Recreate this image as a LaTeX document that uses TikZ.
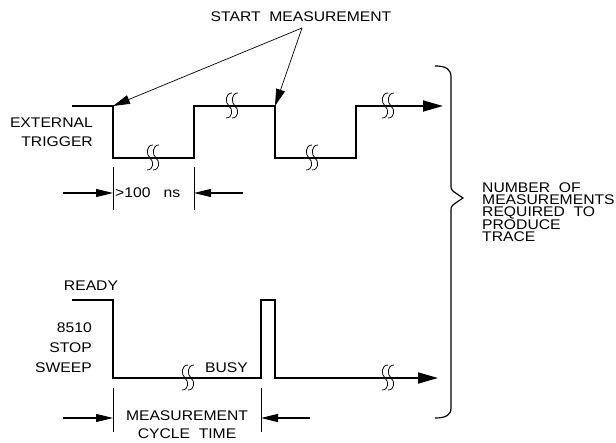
\documentclass[tikz,border=0pt]{standalone}
\usepackage{fontspec}
\newfontfamily\plotfont[FakeStretch=1.12]{Liberation Sans}
\usetikzlibrary{arrows.meta}
\begin{document}
\begin{tikzpicture}[x=1pt,y=-1pt,
  wave/.style={line width=1.8pt, line join=miter},
  wavetip/.style={-{Triangle[length=20pt,width=11pt]}},
  lbl/.style={font=\plotfont\fontsize{14}{19}\selectfont, inner sep=0pt},
  lead/.style={line width=0.7pt, -{Triangle[length=17pt,width=9pt]}},
  dimarrow/.style={line width=1.2pt, -{Triangle[length=17pt,width=8pt]}},
  dimtick/.style={line width=0.9pt},
  bracestyle/.style={line width=1.2pt},
  brk/.pic={
    \foreach \dx in {-3,3} {
      \draw[line width=0.8pt] (\dx+3,-13) .. controls (\dx-4,-13) and (\dx-4,-3) .. (\dx,0)
        .. controls (\dx+4,3) and (\dx+4,12) .. (\dx-3,12);
    }
  }
]
\useasboundingbox (0,0) rectangle (616,443);

% ---------- labels ----------
\node[lbl] (start) at (301,17) {START\ \ MEASUREMENT};
\coordinate (sm) at (302,28);
\node[lbl, align=right, anchor=north east] (ext) at (93,118) {EXTERNAL\\TRIGGER};
\node[lbl, anchor=west] (ns) at (115,193) {>100\ \ \ ns};
\node[lbl] (ready) at (91,286) {READY};
\node[lbl, align=right, anchor=north east, font=\plotfont\fontsize{14}{20}\selectfont] (stop) at (92,323) {8510\\STOP\\SWEEP};
\node[lbl] (busy) at (226.5,368) {BUSY};
\node[lbl, align=center, anchor=north, font=\plotfont\fontsize{14}{18}\selectfont] (mct) at (187,411) {MEASUREMENT\\CYCLE\ \ TIME};
\node[lbl, align=left, anchor=north west, font=\plotfont\fontsize{14}{11.75}\selectfont] (num) at (482,183)
  {NUMBER\ \ OF\\MEASUREMENTS\\REQUIRED\ \ TO\\PRODUCE\\TRACE};

% ---------- external trigger waveform ----------
\coordinate (t0) at (72,106);
\coordinate (t1) at (113,106);
\coordinate (t2) at (113,158);
\coordinate (t3) at (194,158);
\coordinate (t4) at (194,106);
\coordinate (t5) at (275,106);
\coordinate (t6) at (275,158);
\coordinate (t7) at (356,158);
\coordinate (t8) at (356,106);
\coordinate (t9) at (443,106);
\draw[wave, wavetip] (t0) -- (t1) -- (t2) -- (t3) -- (t4) -- (t5) -- (t6) -- (t7) -- (t8) -- (t9);
\pic at (153,158) {brk};
\pic at (232,106) {brk};
\pic at (312,158) {brk};
\pic at (388,106) {brk};

% start measurement leaders
\draw[lead] (sm) -- (t1);
\draw[lead] (sm) -- (t5);

% >100 ns dimension
\coordinate (d1a) at (113,167); \coordinate (d1b) at (113,210);
\coordinate (d2a) at (194,167); \coordinate (d2b) at (194,210);
\draw[dimtick] (d1a) -- (d1b);
\draw[dimtick] (d2a) -- (d2b);
\coordinate (d1l) at (63,193);  \coordinate (d1t) at (113,193);
\coordinate (d2r) at (243,193); \coordinate (d2t) at (194,193);
\draw[dimarrow] (d1l) -- (d1t);
\draw[dimarrow] (d2r) -- (d2t);

% ---------- stop sweep waveform ----------
\coordinate (b0) at (72,300);
\coordinate (b1) at (113,300);
\coordinate (b2) at (113,378);
\coordinate (b3) at (261,378);
\coordinate (b4) at (261,300);
\coordinate (b5) at (275,300);
\coordinate (b6) at (275,378);
\coordinate (b7) at (438,378);
\draw[wave, wavetip] (b0) -- (b1) -- (b2) -- (b3) -- (b4) -- (b5) -- (b6) -- (b7);
\pic at (188,378) {brk};
\pic at (388,378) {brk};

% measurement cycle time dimension
\coordinate (e1a) at (113,388); \coordinate (e1b) at (113,432);
\coordinate (e2a) at (261,388); \coordinate (e2b) at (261,432);
\draw[dimtick] (e1a) -- (e1b);
\draw[dimtick] (e2a) -- (e2b);
\coordinate (e1l) at (63,418);  \coordinate (e1t) at (113,418);
\coordinate (e2r) at (310,418); \coordinate (e2t) at (261,418);
\draw[dimarrow] (e1l) -- (e1t);
\draw[dimarrow] (e2r) -- (e2t);

% ---------- brace ----------
\draw[bracestyle] (435,66) .. controls (446,66) and (451,69) .. (451,77)
  -- (451,186) .. controls (451,190) .. (463,198)
  .. controls (451,206) .. (451,210)
  -- (451,408) .. controls (451,415) and (446,418) .. (435,418);
\end{tikzpicture}
\end{document}
